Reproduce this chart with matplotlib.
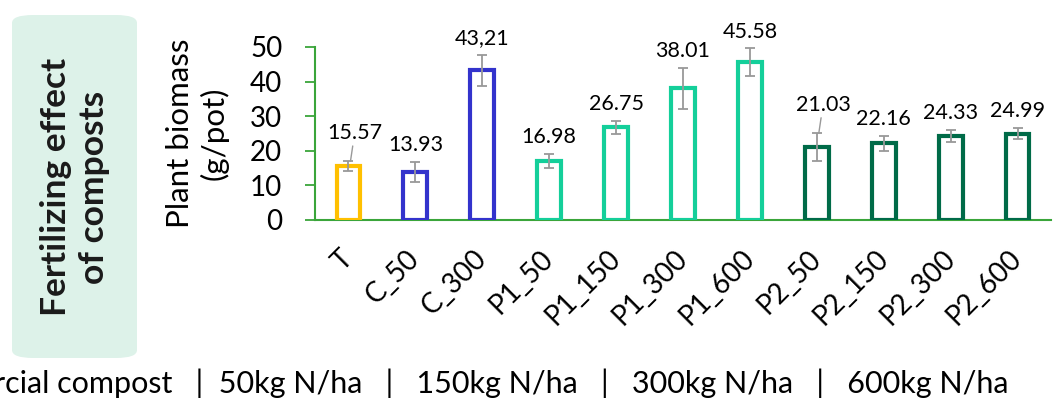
import matplotlib
matplotlib.use('Agg')
import matplotlib.pyplot as plt
from matplotlib.patches import FancyBboxPatch

plt.rcParams['font.family'] = ['Lato', 'DejaVu Sans']

# data
treatments = ['T', 'C_50', 'C_300', 'P1_50', 'P1_150', 'P1_300', 'P1_600',
              'P2_50', 'P2_150', 'P2_300', 'P2_600']
biomass = [15.57, 13.93, 43.21, 16.98, 26.75, 38.01, 45.58, 21.03, 22.16, 24.33, 24.99]
errors = [1.4, 2.9, 4.6, 2.0, 1.9, 6.0, 4.0, 4.1, 2.2, 1.8, 1.7]
value_labels = ['15.57', '13.93', '43,21', '16.98', '26.75', '38.01', '45.58',
                '21.03', '22.16', '24.33', '24.99']
groups = ['T', 'C', 'C', 'P1', 'P1', 'P1', 'P1', 'P2', 'P2', 'P2', 'P2']
group_colors = {'T': '#FFC000', 'C': '#3333CC', 'P1': '#14CF9A', 'P2': '#006B48'}
leader_labels = ['15.57', '21.03']
yticks = [0, 10, 20, 30, 40, 50]
footer = 'Commercial compost   |  50kg N/ha   |   150kg N/ha   |   300kg N/ha   |   600kg N/ha'

fig = plt.figure(figsize=(10.54, 3.98), dpi=100)
ax = fig.add_axes([315 / 1054, 1 - 220 / 398, 736 / 1054, 173 / 398])

x = list(range(len(treatments)))
colors = [group_colors[g] for g in groups]
ax.bar(x, biomass, width=0.355, color='white', edgecolor=colors, linewidth=3, zorder=3)
ax.errorbar(x, biomass, yerr=errors, fmt='none', ecolor='#999999', elinewidth=1.3,
            capsize=3.5, capthick=1.3, zorder=4)

for i in x:
    top = biomass[i] + errors[i]
    if value_labels[i] in leader_labels:
        ax.annotate(value_labels[i], xy=(i + 0.03, top), xytext=(3, 13),
                    textcoords='offset points', ha='center', va='bottom', fontsize=15.5,
                    arrowprops=dict(arrowstyle='-', color='#999999', lw=1,
                                    shrinkA=0, shrinkB=0),
                    annotation_clip=False, zorder=5)
    else:
        ax.annotate(value_labels[i], xy=(i, top), xytext=(0, 5),
                    textcoords='offset points', ha='center', va='bottom', fontsize=15.5,
                    annotation_clip=False, zorder=5)

ax.set_xlim(-0.5, len(treatments) - 0.5)
ax.set_ylim(0, 50)
ax.set_yticks(yticks)
ax.set_xticks(x)
ax.set_xticklabels(treatments, rotation=45, ha='right', va='center',
                   rotation_mode='anchor', fontsize=20)
ax.tick_params(axis='x', length=0, pad=25)
ax.tick_params(axis='y', length=7.5, width=1.3, color='#3AA53A', pad=16, labelsize=20)

for side in ['top', 'right']:
    ax.spines[side].set_visible(False)
for side in ['left', 'bottom']:
    ax.spines[side].set_color('#3AA53A')
    ax.spines[side].set_linewidth(1.5)
    ax.spines[side].set_zorder(2)

ax.set_ylabel('Plant biomass\n(g/pot)', fontsize=22.5, linespacing=1.2)
ax.yaxis.set_label_coords(-0.118, 0.5)

# side box
box = FancyBboxPatch((12 / 1054, 1 - 358 / 398), 125 / 1054, 343 / 398,
                     boxstyle='round,pad=0,rounding_size=0.02',
                     transform=fig.transFigure, facecolor='#DDF2E9', edgecolor='none')
fig.patches.append(box)
fig.text(75 / 1054, 1 - 187 / 398, 'Fertilizing effect\nof composts', rotation=90,
         ha='center', va='center', fontsize=25.5, fontweight='bold', color='#1a1a1a',
         linespacing=1.25)

fig.text(1008 / 1054, 1 - 393 / 398, footer, ha='right', va='baseline', fontsize=22)

fig.savefig('out.png', dpi=100)
